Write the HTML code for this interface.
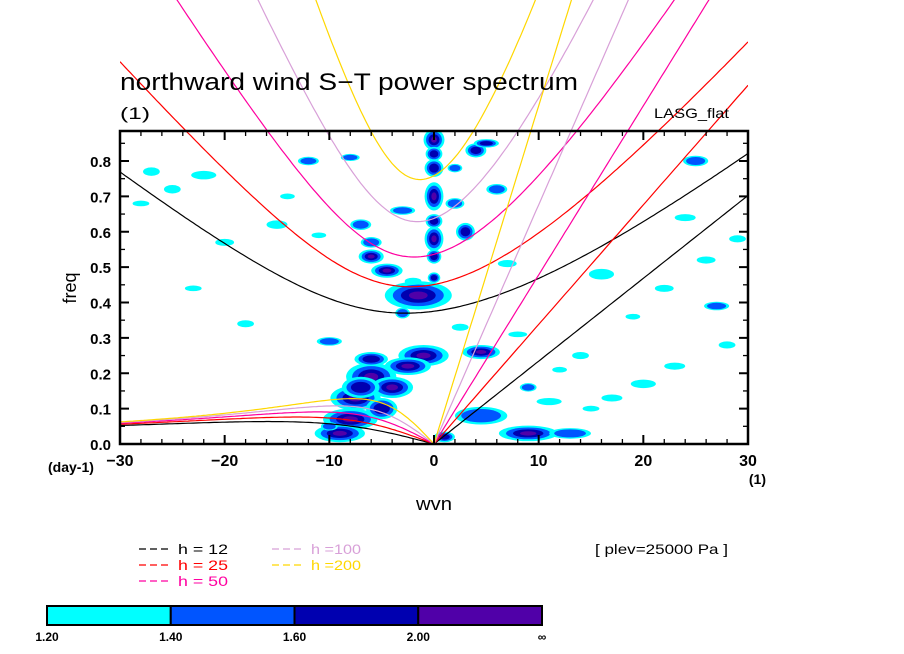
<!DOCTYPE html>
<html><head><meta charset="utf-8"><style>
html,body{margin:0;padding:0;background:#fff;}
svg{display:block;font-family:"Liberation Sans",sans-serif;}
</style></head><body>
<svg id="chart" width="904" height="654" viewBox="0 0 904 654" xmlns="http://www.w3.org/2000/svg">
<defs><clipPath id="clipCurves"><rect x="120" y="0" width="628" height="444"/></clipPath>
<clipPath id="clipPlot"><rect x="120" y="131" width="628" height="313"/></clipPath></defs>
<g id="blobs" clip-path="url(#clipPlot)"></g>
<g id="curves" clip-path="url(#clipCurves)"></g>
<g id="axes"></g>
<text x="120" y="90" font-size="24" fill="#000" textLength="458" lengthAdjust="spacingAndGlyphs">northward wind S−T power spectrum</text>
<text x="120" y="119" font-size="17" fill="#000" textLength="30" lengthAdjust="spacingAndGlyphs">(1)</text>
<text x="729" y="118" font-size="14" text-anchor="end" fill="#000" textLength="75" lengthAdjust="spacingAndGlyphs">LASG_flat</text>
<text transform="translate(76,288) rotate(-90)" font-size="18" text-anchor="middle" fill="#000">freq</text>
<text x="434" y="510" font-size="18" text-anchor="middle" fill="#000" textLength="36" lengthAdjust="spacingAndGlyphs">wvn</text>
<text x="48" y="472" font-size="14" font-weight="bold" fill="#000">(day-1)</text>
<text x="766" y="484" font-size="14" font-weight="bold" text-anchor="end" fill="#000">(1)</text>
<text x="595" y="554" font-size="14" fill="#000" textLength="133" lengthAdjust="spacingAndGlyphs">[ plev=25000 Pa ]</text>
<g id="legend"></g>
<g id="cbar"></g>
</svg>
<script>
const depths = [12, 25, 50, 100, 200];
const depthColors = ['#000000', '#ff0000', '#ff00a0', '#d8a0d8', '#ffd700'];
const xTicks = [-30, -20, -10, 0, 10, 20, 30];
const yTicks = [0.0, 0.1, 0.2, 0.3, 0.4, 0.5, 0.6, 0.7, 0.8];
const cbarLabels = ['1.20', '1.40', '1.60', '2.00', '∞'];
const cbarColors = ['#00ffff', '#0055ff', '#0000b0', '#5000a8'];
// blobs: wavenumber, frequency, half-width (wvn), half-height (freq), max level
const blobK = [0,0,0,0,0,0,-1.5,-6,-4.5,-1,-2.5,4.5,-6,-7.5,-8,-9,-5,1,9,13,4.5,4,3,-6,-7,-12,-22,-25,-27,2.5,-18,-10,25,27,14,20,17,28,11,9,6,-3,-15,2,7,-20,22,5,-8,-4,-6,-7,-3,0,0,-2,2,-10,16,19,23,26,29,24,-14,-23,-28,-11,8,12,15];
const blobF = [0.86,0.78,0.70,0.63,0.58,0.53,0.42,0.53,0.49,0.25,0.22,0.26,0.19,0.13,0.07,0.03,0.10,0.02,0.03,0.03,0.08,0.83,0.60,0.57,0.62,0.80,0.76,0.72,0.77,0.33,0.34,0.29,0.80,0.39,0.25,0.17,0.13,0.28,0.12,0.16,0.72,0.66,0.62,0.68,0.51,0.57,0.44,0.85,0.81,0.16,0.24,0.16,0.37,0.47,0.82,0.46,0.78,0.05,0.48,0.36,0.22,0.52,0.58,0.64,0.70,0.44,0.68,0.59,0.31,0.21,0.10];
const blobW = [1.0,0.9,0.9,0.8,0.9,0.7,3.2,1.2,1.5,2.4,2.2,1.8,2.4,2.4,2.6,2.4,1.5,1.0,2.8,2.0,2.5,1.0,0.9,1.0,1.0,1.0,1.2,0.8,0.8,0.8,0.8,1.2,1.2,1.2,0.8,1.2,1.0,0.8,1.2,0.8,1.0,1.2,1.0,0.9,0.9,0.9,0.9,1.2,0.9,2.0,1.6,1.8,0.7,0.6,0.8,0.8,0.7,0.8,1.2,0.7,1.0,0.9,0.8,1.0,0.7,0.8,0.8,0.7,0.9,0.7,0.8];
const blobH = [0.03,0.025,0.04,0.02,0.035,0.02,0.04,0.02,0.02,0.03,0.025,0.02,0.04,0.035,0.03,0.025,0.03,0.015,0.022,0.015,0.025,0.02,0.025,0.015,0.015,0.012,0.012,0.012,0.012,0.01,0.01,0.012,0.015,0.012,0.01,0.012,0.01,0.01,0.01,0.012,0.015,0.012,0.012,0.015,0.01,0.01,0.01,0.012,0.01,0.03,0.02,0.03,0.015,0.015,0.02,0.01,0.012,0.012,0.015,0.008,0.01,0.01,0.01,0.01,0.008,0.008,0.008,0.008,0.008,0.008,0.008];
const blobL = [3,2,3,2,3,2,3,3,3,3,3,3,3,3,3,3,2,2,3,1,1,2,2,1,1,1,0,0,0,0,0,1,1,1,0,0,0,0,0,1,1,1,0,1,0,0,0,2,1,3,2,2,1,2,2,0,1,1,0,0,0,0,0,0,0,0,0,0,0,0,0];

const NS='http://www.w3.org/2000/svg';
const X0=120,X1=748,Y0=444,Y1=161;
const xs=k=>X0+(k+30)*(X1-X0)/60;
const ys=f=>Y0-f*(Y0-Y1)/0.8;
function mk(tag,attrs,parent){const e=document.createElementNS(NS,tag);for(const a in attrs)e.setAttribute(a,attrs[a]);parent.appendChild(e);return e;}

const gB=document.getElementById('blobs');
for(let i=0;i<blobK.length;i++){
  for(let l=0;l<=blobL[i];l++){
    const s=1-l*0.24;
    const e=mk('ellipse',{cx:xs(blobK[i]),cy:ys(blobF[i]),rx:blobW[i]*s*(X1-X0)/60,ry:blobH[i]*s*(Y0-Y1)/0.8,fill:cbarColors[l]},gB);
    
    
  }
}

const beta=2.289e-11,a=6.371e6,g=9.81;
function roots(kh){const p=-(kh*kh+3),q=-kh;const r=2*Math.sqrt(-p/3);
  let arg=(3*q/(2*p))*Math.sqrt(-3/p);arg=Math.max(-1,Math.min(1,arg));
  const th=Math.acos(arg)/3;return [0,1,2].map(m=>r*Math.cos(th-2*Math.PI*m/3));}
const gC=document.getElementById('curves');
depths.forEach((h,i)=>{
  const c=Math.sqrt(g*h),sc=Math.sqrt(c/beta),sw=Math.sqrt(beta*c),cv=86400/(2*Math.PI);
  let ig=[],ro=[],kel=[];
  for(let k=-30;k<=30.001;k+=0.25){
    const kh=(k/a)*sc;const r=roots(kh);
    const big=Math.max(...r);ig.push([xs(k),ys(big*sw*cv)]);
    if(k<=0.001){let sm=r.reduce((m,v)=>Math.abs(v)<Math.abs(m)?v:m,r[0]);ro.push([xs(k),ys(Math.abs(sm)*sw*cv)]);}
    else kel.push([xs(k),ys(c*(k/a)*cv)]);
  }
  kel.unshift([xs(0),ys(0)]);
  [['ig',ig],['rossby',ro],['kelvin',kel]].forEach(([nm,pts])=>{
    const p=mk('polyline',{points:pts.map(q=>q[0].toFixed(1)+','+q[1].toFixed(1)).join(' '),fill:'none',stroke:depthColors[i],'stroke-width':1.2},gC);
    
    
  });
});

const gA=document.getElementById('axes');
const fr=mk('rect',{x:X0,y:131,width:X1-X0,height:Y0-131,fill:'none',stroke:'#000','stroke-width':2.5},gA);

for(let k=-30;k<=30;k+=2){const maj=k%10===0,L=maj?9:5;
  mk('line',{x1:xs(k),x2:xs(k),y1:Y0,y2:Y0-L,stroke:'#000','stroke-width':maj?2:1.3},gA);
  mk('line',{x1:xs(k),x2:xs(k),y1:131,y2:131+L,stroke:'#000','stroke-width':maj?2:1.3},gA);}
for(let f=0;f<=0.88;f+=0.05){const maj=Math.round(f*100)%10===0,L=maj?9:5;
  mk('line',{x1:X0,x2:X0+L,y1:ys(f),y2:ys(f),stroke:'#000','stroke-width':maj?2:1.3},gA);
  mk('line',{x1:X1,x2:X1-L,y1:ys(f),y2:ys(f),stroke:'#000','stroke-width':maj?2:1.3},gA);}
xTicks.forEach(k=>{const t=mk('text',{x:xs(k),y:466,'font-size':16,'font-weight':'bold','text-anchor':'middle'},gA);t.textContent=(k<0?'−':'')+Math.abs(k);
  });
yTicks.forEach(f=>{const t=mk('text',{x:111,y:ys(f)+6,'font-size':15,'font-weight':'bold','text-anchor':'end'},gA);t.textContent=f.toFixed(1);
  });

const gL=document.getElementById('legend');
depths.forEach((h,i)=>{const col=i<3?0:1,row=i<3?i:i-3;const x=col?272:139,y=554+row*16;
  const d=mk('line',{x1:x,x2:x+32,y1:y-5,y2:y-5,stroke:depthColors[i],'stroke-width':1.2,'stroke-dasharray':'7,4'},gL);
  
  const t=mk('text',{x:x+39,y:y,'font-size':14,fill:depthColors[i],textLength:50,lengthAdjust:'spacingAndGlyphs'},gL);t.textContent=h<100?'h = '+h:'h ='+h;
  });

const gK=document.getElementById('cbar');
const cx0=47,cw=(542-47)/4;
cbarColors.forEach((c,i)=>{const r=mk('rect',{x:cx0+i*cw,y:606,width:cw,height:19,fill:c,stroke:'#000','stroke-width':2},gK);
  });
cbarLabels.forEach((l,i)=>{const t=mk('text',{x:cx0+i*cw,y:641,'font-size':12,'font-weight':'bold','text-anchor':'middle'},gK);t.textContent=l;
  });
</script>
</body></html>
